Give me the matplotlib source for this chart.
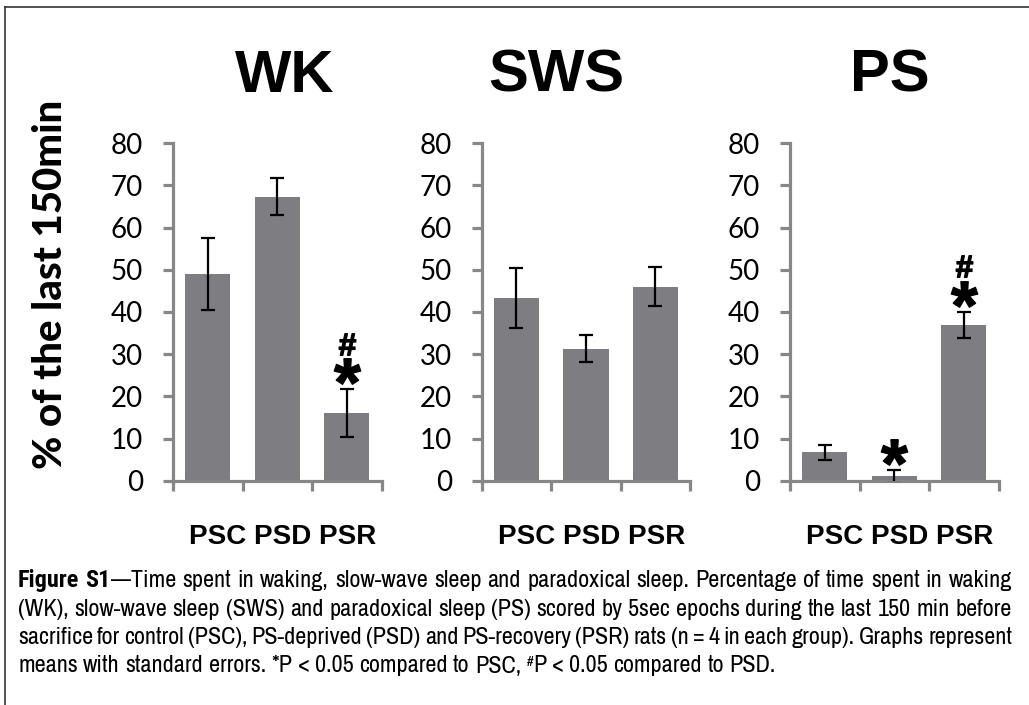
import re
import matplotlib
matplotlib.use("Agg")
import matplotlib.pyplot as plt
from matplotlib.lines import Line2D

# ---------------- data ----------------
categories = ["PSC", "PSD", "PSR"]
panels = ["WK", "SWS", "PS"]
wk_mean = [49.0, 67.3, 16.0]
wk_sem = [8.5, 4.4, 5.7]
sws_mean = [43.3, 31.3, 46.0]
sws_sem = [7.2, 3.2, 4.6]
ps_mean = [6.7, 1.0, 37.0]
ps_sem = [1.8, 1.5, 3.1]
sig_star = [[False, False, True], [False, False, False], [False, True, True]]
sig_hash = [[False, False, True], [False, False, False], [False, False, True]]
yticks = [0, 10, 20, 30, 40, 50, 60, 70, 80]
ylabel = "% of the last 150min"
caption_lines = [
    "**Figure** **S1**\u2014Time spent in waking, slow-wave sleep and paradoxical sleep. Percentage of time spent in waking",
    "(WK), slow-wave sleep (SWS) and paradoxical sleep (PS) scored by 5sec epochs during the last 150 min before",
    "sacrifice for control (PSC), PS-deprived (PSD) and PS-recovery (PSR) rats (n = 4 in each group). Graphs represent",
    "means with standard errors. *P < 0.05 compared to PSC, ^#^P < 0.05 compared to PSD.",
]

means = [wk_mean, sws_mean, ps_mean]
sems = [wk_sem, sws_sem, ps_sem]

# ---------------- style ----------------
W, H = 1029, 705
plt.rcParams["mathtext.fontset"] = "custom"
plt.rcParams["mathtext.rm"] = "Liberation Sans"
plt.rcParams["mathtext.bf"] = "Liberation Sans:bold"

BAR = "#7d7d82"
SPINE = "#878787"
TICKFONT = ["Lato", "DejaVu Sans"]
BOLDFONT = ["Liberation Sans", "DejaVu Sans"]
CAPFONT = ["Archivo Narrow", "DejaVu Sans Condensed", "DejaVu Sans"]
CAPBOLD = ["Roboto Condensed", "Barlow Semi Condensed", "DejaVu Sans Condensed",
           "DejaVu Sans"]

fig = plt.figure(figsize=(W / 100, H / 100), dpi=100)
fig.patch.set_facecolor("white")


def fx(x):
    return x / W


def fy(y):
    return 1 - y / H


ax_left_px = [173, 481.7, 790]
ax_w_px = 208.5
ax_bottom_px = 480.7
ax_top_px = 143.3
title_x = [285, 556, 890]

for i, name in enumerate(panels):
    ax = fig.add_axes([fx(ax_left_px[i]), fy(ax_bottom_px),
                       ax_w_px / W, (ax_bottom_px - ax_top_px) / H])
    x = [k + 0.5 for k in range(len(categories))]
    ax.bar(x, means[i], width=0.65, color=BAR, zorder=2)
    ax.errorbar(x, means[i], yerr=sems[i], fmt="none", ecolor="black",
                elinewidth=1.6, capsize=4.8, capthick=1.6, zorder=3)
    for k in range(len(categories)):
        top = means[i][k] + sems[i][k]
        if sig_star[i][k]:
            ax.plot(x[k], top + 4.2, marker=r"$\mathbf{*}$", ms=19,
                    color="black", clip_on=False, zorder=4)
        if sig_hash[i][k]:
            ax.plot(x[k], top + 10.8, marker=r"$\mathbf{\#}$", ms=15.5,
                    color="black", clip_on=False, zorder=4)
    ax.set_xlim(0, 3)
    ax.set_ylim(0, 80)
    ax.set_yticks(yticks)
    ax.set_xticks([0, 1, 2, 3])
    ax.set_xticklabels([])
    for s in ["top", "right"]:
        ax.spines[s].set_visible(False)
    for s in ["left", "bottom"]:
        ax.spines[s].set_color(SPINE)
        ax.spines[s].set_linewidth(2.3)
    ax.tick_params(axis="y", length=7.5, width=2.3, color=SPINE, pad=14,
                   labelsize=20)
    ax.tick_params(axis="x", length=7.5, width=2.3, color=SPINE)
    for lab in ax.get_yticklabels():
        lab.set_family(TICKFONT)
    ax.patch.set_visible(False)

    fig.text(fx(title_x[i]), fy(76), name, ha="center", va="center",
             fontsize=43, fontweight="bold", family=BOLDFONT)
    fig.text(fx(ax_left_px[i] + 110), fy(544), " ".join(categories),
             ha="center", va="baseline", fontsize=20, fontweight="bold",
             family=BOLDFONT)

fig.text(fx(51), fy(284), ylabel, rotation=90, ha="center", va="center",
         fontsize=29, fontweight="black", family=TICKFONT)

# border lines
fig.add_artist(Line2D([fx(5), fx(5)], [fy(7), 0], transform=fig.transFigure,
                      color="#333333", lw=1.2))
fig.add_artist(Line2D([fx(5), 1], [fy(7), fy(7)], transform=fig.transFigure,
                      color="#333333", lw=1.2))

# ---------------- caption (justified) ----------------
fig.canvas.draw()
renderer = fig.canvas.get_renderer()
cap_left, cap_right = 18, 1012
baselines = [587, 615.5, 644, 672.5]


def parse_word(word, size):
    segs = []
    for part in re.split(r"(\*\*.+?\*\*|\^.+?\^)", word):
        if not part:
            continue
        if part.startswith("**") and part.endswith("**") and len(part) > 4:
            segs.append((part[2:-2], "bold", size, 0))
        elif part.startswith("^") and part.endswith("^") and len(part) > 2:
            segs.append((part[1:-1], "normal", size * 0.6, 6))
        else:
            segs.append((part, "normal", size, 0))
    return segs


def measure(text, weight, size):
    fam = CAPBOLD if weight == "bold" else CAPFONT
    t = fig.text(0, 0, text, fontsize=size, fontweight=weight, family=fam)
    w = t.get_window_extent(renderer).width
    t.remove()
    return w


def line_natural(line, size):
    words = [parse_word(w, size) for w in line.split(" ")]
    sw = measure("a a", "normal", size) - measure("aa", "normal", size)
    tot = sum(measure(s, wt, sz) for segs in words for s, wt, sz, _ in segs)
    return tot + sw * (len(words) - 1)


# calibrate the caption size so that the first line nearly fills the width
base = 14.0
nat = line_natural(caption_lines[0], base)
CAP_SIZE = base * (cap_right - cap_left - 12) / nat
space_w = measure("a a", "normal", CAP_SIZE) - measure("aa", "normal", CAP_SIZE)

for li, line in enumerate(caption_lines):
    words = [parse_word(w, CAP_SIZE) for w in line.split(" ")]
    widths = [[measure(s, wt, sz) for s, wt, sz, _ in segs] for segs in words]
    total = sum(sum(w) for w in widths)
    last = li == len(caption_lines) - 1
    gap = space_w if last else (cap_right - cap_left - total) / (len(words) - 1)
    xpos = cap_left
    for segs, ws in zip(words, widths):
        for (s, wt, sz, dy), w in zip(segs, ws):
            fam = CAPBOLD if wt == "bold" else CAPFONT
            fig.text(fx(xpos), fy(baselines[li] - dy), s, fontsize=sz,
                     fontweight=wt, family=fam, ha="left", va="baseline")
            xpos += w
        xpos += gap

fig.savefig("out.png", dpi=100, facecolor="white")
